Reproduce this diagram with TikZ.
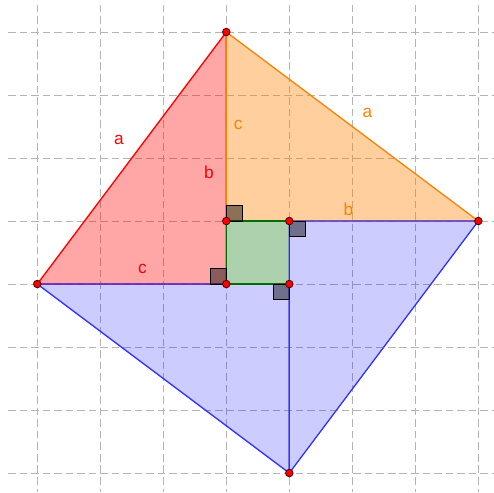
\documentclass[tikz,border=0pt]{standalone}
\usepackage{fontspec}
\setmainfont{Liberation Sans}
\begin{document}
\definecolor{gridgray}{RGB}{180,180,180}
\definecolor{ggred}{RGB}{255,0,0}
\definecolor{ggorange}{RGB}{255,128,0}
\definecolor{ggblue}{RGB}{50,50,255}
\definecolor{gggreen}{RGB}{0,110,0}
\begin{tikzpicture}[x=1cm,y=1cm,
  gridline/.style={gridgray, line width=0.45pt, dash pattern=on 3.4pt off 1.8pt},
  edge/.style={line width=0.6pt},
  ramark/.style={draw=black, line width=0.45pt, fill=black, fill opacity=0.45},
  dot/.style={circle, fill=red, draw=black!65!red, line width=0.4pt, inner sep=0pt, minimum size=3.4pt},
  lab/.style={font=\fontsize{7.8}{8}\selectfont, inner sep=0pt}]
\useasboundingbox (-0.592,-0.302) rectangle (7.249,7.508);
% grid
\foreach \i in {0,...,7} {
  \draw[gridline] (\i,7.43) -- (\i,-0.302);
  \draw[gridline] (-0.465,\i) -- (7.249,\i);
}
% points
\coordinate (T) at (3,7);
\coordinate (L) at (0,3);
\coordinate (R) at (7,4);
\coordinate (B) at (4,0);
\coordinate (P1) at (3,4);
\coordinate (P2) at (4,4);
\coordinate (P3) at (3,3);
\coordinate (P4) at (4,3);
% fills
\fill[ggred, fill opacity=0.35] (T) -- (L) -- (P3) -- cycle;
\fill[ggorange, fill opacity=0.38] (T) -- (R) -- (P1) -- cycle;
\fill[blue, fill opacity=0.2] (L) -- (P4) -- (B) -- cycle;
\fill[blue, fill opacity=0.2] (P2) -- (R) -- (B) -- cycle;
\fill[gggreen, fill opacity=0.32] (P1) -- (P2) -- (P4) -- (P3) -- cycle;
% red triangle edges
\draw[edge, ggred] (T) -- (L) -- (P3) -- cycle;
% orange triangle edges
\draw[edge, ggorange] (T) -- (R) -- (P1) -- cycle;
% blue triangle edges
\draw[edge, ggblue] (L) -- (P4) -- (B) -- cycle;
\draw[edge, ggblue] (P2) -- (R) -- (B) -- cycle;
% green square
\draw[edge, gggreen] (P1) -- (P2) -- (P4) -- (P3) -- cycle;
% right angle marks
\draw[ramark] (P3) rectangle ++(-0.25,0.25);
\draw[ramark] (P1) rectangle ++(0.25,0.25);
\draw[ramark] (P2) rectangle ++(0.25,-0.25);
\draw[ramark] (P4) rectangle ++(-0.25,-0.25);
% dots
\foreach \p in {T,L,R,B,P1,P2,P3,P4} \node[dot] (d\p) at (\p) {};
% labels
\node[lab, text=ggred] (la1) at (1.297,5.286) {a};
\node[lab, text=ggred] (lb1) at (2.725,4.778) {b};
\node[lab, text=ggred] (lc1) at (1.667,3.238) {c};
\node[lab, text=ggorange] (la2) at (5.24,5.71) {a};
\node[lab, text=ggorange] (lb2) at (4.94,4.19) {b};
\node[lab, text=ggorange] (lc2) at (3.187,5.524) {c};
\end{tikzpicture}
\end{document}
